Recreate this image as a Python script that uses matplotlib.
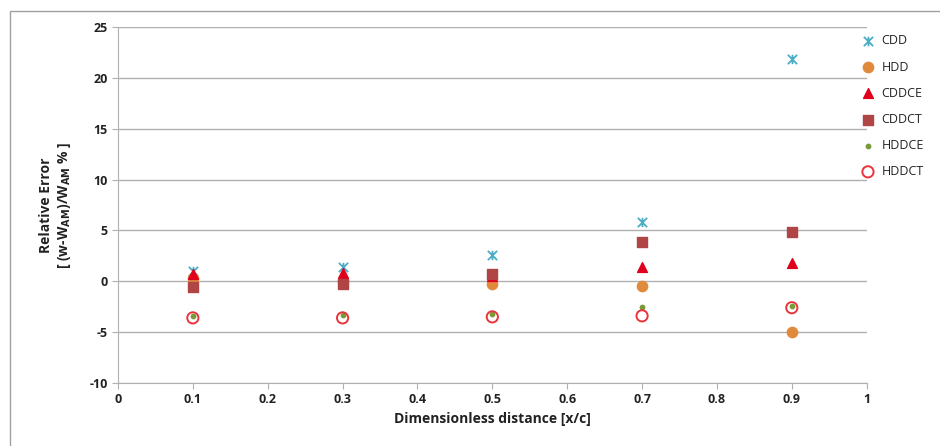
import matplotlib.pyplot as plt
from matplotlib.patches import Rectangle
from matplotlib.path import Path

# positions along the chord
x_pos = [0.1, 0.3, 0.5, 0.7, 0.9]

# relative error values (%)
cdd = [1.0, 1.4, 2.6, 5.8, 21.9]
hdd = [0.3, 0.0, -0.3, -0.5, -5.0]
cddce = [0.7, 0.8, 0.5, 1.4, 1.8]
cddct = [-0.6, -0.3, 0.7, 3.9, 4.8]
hddce = [-3.4, -3.3, -3.2, -2.5, -2.4]
hddct = [-3.6, -3.6, -3.5, -3.4, -2.6]

plt.rcParams['font.family'] = ['Open Sans', 'DejaVu Sans']
plt.rcParams['axes.unicode_minus'] = False

# excel-like "star" marker: an x with a short vertical bar
star = Path([(-1, -1), (1, 1), (-1, 1), (1, -1), (0, -1), (0, 1)],
            [Path.MOVETO, Path.LINETO, Path.MOVETO, Path.LINETO, Path.MOVETO, Path.LINETO])

fig = plt.figure(figsize=(9.4, 4.46), dpi=100)
fig.patches.append(Rectangle((0.011, -0.01), 1.0, 0.985, transform=fig.transFigure,
                             fill=False, edgecolor='#a0a0a0', linewidth=1.0))
ax = fig.add_axes([0.1255, 0.1413, 0.7965, 0.7982])

ax.scatter(x_pos, cdd, marker=star, s=45, color='#4bacc6', linewidths=1.3, label='CDD', zorder=3)
ax.scatter(x_pos, hdd, marker='o', s=55, color='#e08a3c', label='HDD', zorder=3)
ax.scatter(x_pos, cddce, marker='^', s=50, color='#e0001b', label='CDDCE', zorder=4)
ax.scatter(x_pos, cddct, marker='s', s=55, color='#b04545', label='CDDCT', zorder=4)
ax.scatter(x_pos, hddce, marker='o', s=10, color='#7a9a3a', label='HDDCE', zorder=3)
ax.scatter(x_pos, hddct, marker='o', s=65, facecolors='none', edgecolors='#e8353b',
           linewidths=1.4, label='HDDCT', zorder=5)

ax.set_xlim(0, 1)
ax.set_ylim(-10, 25)
ax.set_xticks([0, 0.1, 0.2, 0.3, 0.4, 0.5, 0.6, 0.7, 0.8, 0.9, 1])
ax.set_xticklabels(['0', '0.1', '0.2', '0.3', '0.4', '0.5', '0.6', '0.7', '0.8', '0.9', '1'])
ax.set_yticks(range(-10, 26, 5))
ax.grid(axis='y', color='#b0b0b0', linewidth=1.0)
ax.set_axisbelow(True)

for s in ['top', 'right']:
    ax.spines[s].set_visible(False)
for s in ['left', 'bottom']:
    ax.spines[s].set_color('#b0b0b0')
ax.tick_params(axis='both', colors='#b0b0b0', labelcolor='#222222', labelsize=9,
               length=4, direction='out')
for lab in ax.get_xticklabels() + ax.get_yticklabels():
    lab.set_fontweight('bold')

ax.set_xlabel('Dimensionless distance [x/c]', fontsize=10, fontweight='bold', color='#222222')
ax.set_ylabel('Relative Error\n[ (w-W$_{\\mathbf{AM}}$)/W$_{\\mathbf{AM}}$ % ]', fontsize=10,
              fontweight='bold', color='#222222', labelpad=12)

leg = ax.legend(loc='upper left', bbox_to_anchor=(0.975, 1.0), frameon=False,
                fontsize=9, handletextpad=0.1, labelspacing=1.05, borderaxespad=0.2)
for t in leg.get_texts():
    t.set_color('#222222')

fig.savefig('out.png', dpi=100)
